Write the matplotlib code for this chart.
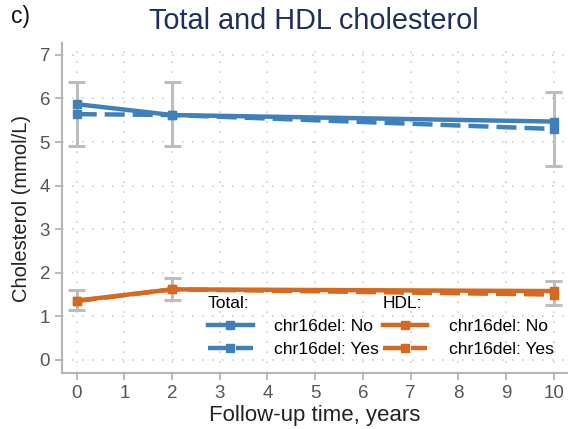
import matplotlib
matplotlib.use("Agg")
import matplotlib.pyplot as plt
from matplotlib.lines import Line2D

plt.rcParams["font.family"] = ["Liberation Sans", "DejaVu Sans"]

# data
years = [0, 2, 10]
total_no = [5.87, 5.62, 5.47]
total_yes = [5.64, 5.62, 5.30]
hdl_no = [1.36, 1.62, 1.58]
hdl_yes = [1.35, 1.62, 1.50]
# error bars (low, high)
total_lo = [4.90, 4.90, 4.46]
total_hi = [6.38, 6.38, 6.15]
hdl_lo = [1.15, 1.38, 1.25]
hdl_hi = [1.60, 1.87, 1.82]

blue = "#3f7fba"
orange = "#d4691f"
ci_col = "#bdbdbd"

fig = plt.figure(figsize=(5.68, 4.29), dpi=100)
ax = fig.add_axes([0.109, 0.1305, 0.891, 0.769])

# CI bars
for lo, hi in [(total_lo, total_hi), (hdl_lo, hdl_hi)]:
    ax.vlines(years, lo, hi, color=ci_col, lw=2.2, zorder=2)
    ax.hlines(lo, [x - 0.18 for x in years], [x + 0.18 for x in years], color=ci_col, lw=2.2, zorder=2)
    ax.hlines(hi, [x - 0.18 for x in years], [x + 0.18 for x in years], color=ci_col, lw=2.2, zorder=2)

dash = (0, (4.5, 1.8))
kw = dict(lw=3.2, marker="s", ms=5.5, zorder=3)
ax.plot(years, total_yes, color=blue, ls=dash, **kw)
ax.plot(years, total_no, color=blue, ls="-", **kw)
ax.plot(years, hdl_yes, color=orange, ls=dash, **kw)
ax.plot(years, hdl_no, color=orange, ls="-", **kw)

ax.set_xlim(-0.31, 10.3)
ax.set_ylim(-0.3, 7.27)
ax.set_xticks(range(0, 11))
ax.set_yticks(range(0, 8))
ax.grid(True, color="#cfcfcf", ls=(0, (1, 5)), lw=1.2)
ax.set_axisbelow(True)
for s in ["top", "right"]:
    ax.spines[s].set_visible(False)
for s in ["left", "bottom"]:
    ax.spines[s].set_color("#b5b5b5")
    ax.spines[s].set_linewidth(1.5)
ax.tick_params(colors="#b5b5b5", labelcolor="#555555", labelsize=13.5, length=5, width=1.3)

ax.set_xlabel("Follow-up time, years", fontsize=16, color="#222222", labelpad=2)
ax.set_ylabel("Cholesterol (mmol/L)", fontsize=14.5, color="#222222", labelpad=6)
fig.text(0.553, 0.952, "Total and HDL cholesterol", fontsize=20.8, color="#1f2f5c",
         ha="center", va="center")
fig.text(0.02, 0.962, "c)", fontsize=16.5, color="#111111", ha="left", va="center")

# legends
def handles(c):
    return [Line2D([], [], color=c, ls="-", lw=3.2, marker="s", ms=5.5),
            Line2D([], [], color=c, ls=dash, lw=3.2, marker="s", ms=5.5)]

labels = ["chr16del: No", "chr16del: Yes"]
leg_kw = dict(frameon=False, fontsize=12.6, handlelength=2.55, handletextpad=1.22,
              labelspacing=0.42, alignment="left", loc="upper left",
              borderaxespad=0, borderpad=0, title_fontsize=12.5)
leg1 = ax.legend(handles(blue), labels, title="Total:",
                 bbox_to_anchor=(0.2885, 0.232), **leg_kw)
ax.add_artist(leg1)
leg2 = ax.legend(handles(orange), labels, title="HDL:",
                 bbox_to_anchor=(0.634, 0.232), **leg_kw)

fig.savefig("out.png", dpi=100)
